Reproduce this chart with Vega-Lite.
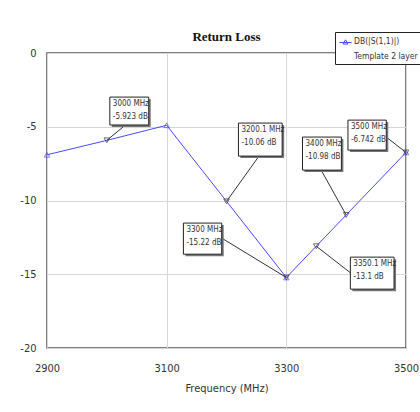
{
  "$schema": "https://vega.github.io/schema/vega-lite/v6.json",
  "autosize": {"type": "none"},
  "width": 359,
  "height": 295,
  "padding": {"left": 47, "top": 53, "right": 14, "bottom": 64},
  "background": "white",
  "title": {"text": "Return Loss", "font": "Liberation Serif", "fontSize": 13, "fontWeight": "bold", "color": "#111", "anchor": "middle", "offset": -12, "frame": "group"},
  "config": {
    "view": {"stroke": "#555", "strokeWidth": 1.5},
    "axis": {"gridColor": "#d6d6d6", "gridWidth": 1, "domain": false, "ticks": false, "labelFlush": false, "labelFont": "DejaVu Sans Condensed, Liberation Sans Narrow, sans-serif", "labelFontSize": 11, "labelColor": "#333", "titleFont": "DejaVu Sans Condensed, Liberation Sans Narrow, sans-serif", "titleFontSize": 11, "titleFontWeight": "normal", "titleColor": "#333"}
  },
  "datasets": {
    "curve": [
      {"freq": 2900, "db": -6.9, "series": "DB(|S(1,1)|)"},
      {"freq": 3000, "db": -5.923, "series": "DB(|S(1,1)|)"},
      {"freq": 3100, "db": -4.9, "series": "DB(|S(1,1)|)"},
      {"freq": 3200, "db": -10.055, "series": "DB(|S(1,1)|)"},
      {"freq": 3300, "db": -15.22, "series": "DB(|S(1,1)|)"},
      {"freq": 3400, "db": -10.98, "series": "DB(|S(1,1)|)"},
      {"freq": 3500, "db": -6.742, "series": "DB(|S(1,1)|)"}
    ],
    "notes": [
      {"freq": 3000, "db": -5.923, "label": "3000 MHz\n-5.923 dB", "bx1": 3005, "bx2": 3070, "by1": -2.99, "by2": -4.88, "lx": 3027, "ly": -5.02},
      {"freq": 3200.1, "db": -10.06, "label": "3200.1 MHz\n-10.06 dB", "bx1": 3220, "bx2": 3293, "by1": -4.75, "by2": -6.99, "lx": 3252, "ly": -7.12},
      {"freq": 3400, "db": -10.98, "label": "3400 MHz\n-10.98 dB", "bx1": 3327, "bx2": 3392, "by1": -5.7, "by2": -7.94, "lx": 3360, "ly": -8.07},
      {"freq": 3500, "db": -6.742, "label": "3500 MHz\n-6.742 dB", "bx1": 3403, "bx2": 3467, "by1": -4.55, "by2": -6.58, "lx": 3467, "ly": -5.7},
      {"freq": 3300, "db": -15.22, "label": "3300 MHz\n-15.22 dB", "bx1": 3128, "bx2": 3192, "by1": -11.53, "by2": -13.64, "lx": 3192, "ly": -12.55},
      {"freq": 3350.1, "db": -13.1, "label": "3350.1 MHz\n-13.1 dB", "bx1": 3407, "bx2": 3480, "by1": -13.84, "by2": -16.01, "lx": 3408, "ly": -14.93}
    ]
  },
  "layer": [
    {
      "data": {"name": "curve"},
      "mark": {"type": "line", "strokeWidth": 1, "clip": false},
      "encoding": {
        "x": {"field": "freq", "type": "quantitative", "scale": {"domain": [2900, 3500], "nice": false, "zero": false}, "axis": {"values": [2900, 3100, 3300, 3500], "labelExpr": "toString(datum.value)", "title": "Frequency (MHz)", "labelPadding": 14, "titlePadding": 9}},
        "y": {"field": "db", "type": "quantitative", "scale": {"domain": [-20, 0], "nice": false}, "axis": {"values": [0, -5, -10, -15, -20], "labelExpr": "toString(datum.value)", "title": null, "labelPadding": 11}},
        "color": {"field": "series", "type": "nominal", "scale": {"range": ["#4848ff"]}, "legend": {"orient": "none", "legendX": 288, "legendY": -21, "title": null, "fillColor": "white", "strokeColor": "#222", "padding": 4, "labelFont": "DejaVu Sans Condensed, Liberation Sans Narrow, sans-serif", "labelFontSize": 8.5, "labelColor": "#333", "symbolType": "M-1,0H1M0,-0.45L0.4,0.25H-0.4Z", "symbolSize": 144, "symbolStrokeWidth": 1, "symbolFillColor": "transparent", "labelExpr": "['DB(|S(1,1)|)', 'Template 2 layer']", "labelOffset": 2, "encode": {"labels": {"update": {"lineHeight": {"value": 15}, "baseline": {"value": "top"}, "dy": {"value": -6}}}}}}
      }
    },
    {
      "data": {"name": "curve"},
      "transform": [{"filter": "datum.freq % 200 === 100"}],
      "mark": {"type": "point", "shape": "triangle-up", "filled": false, "size": 30, "strokeWidth": 1, "color": "#4848ff", "clip": false},
      "encoding": {"x": {"field": "freq", "type": "quantitative"}, "y": {"field": "db", "type": "quantitative"}}
    },
    {
      "data": {"name": "notes"},
      "mark": {"type": "rule", "color": "#333", "strokeWidth": 1},
      "encoding": {"x": {"field": "lx", "type": "quantitative"}, "y": {"field": "ly", "type": "quantitative"}, "x2": {"field": "freq"}, "y2": {"field": "db"}}
    },
    {
      "data": {"name": "notes"},
      "mark": {"type": "point", "shape": "triangle-down", "filled": false, "size": 32, "strokeWidth": 1, "color": "#333", "clip": false},
      "encoding": {"x": {"field": "freq", "type": "quantitative"}, "y": {"field": "db", "type": "quantitative"}}
    },
    {
      "data": {"name": "notes"},
      "mark": {"type": "rect", "color": "#777", "xOffset": 2, "x2Offset": 2, "yOffset": 2, "y2Offset": 2},
      "encoding": {"x": {"field": "bx1", "type": "quantitative"}, "x2": {"field": "bx2"}, "y": {"field": "by1", "type": "quantitative"}, "y2": {"field": "by2"}}
    },
    {
      "data": {"name": "notes"},
      "mark": {"type": "rect", "fill": "white", "stroke": "#222", "strokeWidth": 1},
      "encoding": {"x": {"field": "bx1", "type": "quantitative"}, "x2": {"field": "bx2"}, "y": {"field": "by1", "type": "quantitative"}, "y2": {"field": "by2"}}
    },
    {
      "data": {"name": "notes"},
      "mark": {"type": "text", "align": "left", "baseline": "top", "dx": 3, "dy": 3, "lineBreak": "\n", "lineHeight": 13, "font": "DejaVu Sans Condensed, Liberation Sans Narrow, sans-serif", "fontSize": 8, "color": "#333"},
      "encoding": {"x": {"field": "bx1", "type": "quantitative"}, "y": {"field": "by1", "type": "quantitative"}, "text": {"field": "label"}}
    }
  ]
}
